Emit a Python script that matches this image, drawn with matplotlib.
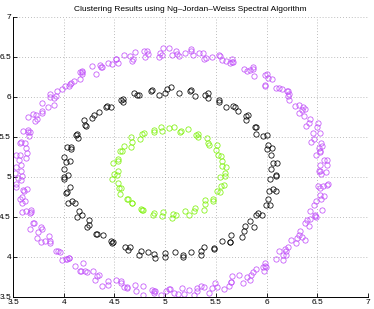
import matplotlib
matplotlib.use("Agg")
import matplotlib.pyplot as plt

# outer ring (magenta)
outer_x = [6.59, 6.52, 6.57, 6.60, 6.53, 6.49, 6.55, 6.52, 6.47, 6.53, 6.46, 6.51, 6.39, 6.43, 6.32,
           6.37, 6.36, 6.28, 6.32, 6.21, 6.21, 6.22, 6.09, 6.12, 6.05, 5.98, 6.01, 6.00, 5.88, 5.87,
           5.78, 5.81, 5.66, 5.67, 5.64, 5.53, 5.56, 5.46, 5.37, 5.40, 5.33, 5.25, 5.27, 5.14, 5.11,
           5.07, 5.04, 4.94, 4.95, 4.82, 4.80, 4.79, 4.65, 4.67, 4.59, 4.51, 4.53, 4.51, 4.38, 4.37,
           4.28, 4.32, 4.16, 4.18, 4.16, 4.06, 4.10, 4.01, 3.93, 3.98, 3.92, 3.86, 3.90, 3.79, 3.79,
           3.79, 3.70, 3.72, 3.74, 3.65, 3.60, 3.65, 3.62, 3.58, 3.63, 3.57, 3.64, 3.53, 3.58, 3.53,
           3.52, 3.58, 3.55, 3.53, 3.61, 3.64, 3.57, 3.62, 3.59, 3.68, 3.59, 3.67, 3.71, 3.67, 3.78,
           3.75, 3.74, 3.85, 3.86, 3.86, 3.96, 3.92, 3.98, 4.05, 4.02, 4.11, 4.19, 4.16, 4.17, 4.29,
           4.31, 4.33, 4.44, 4.44, 4.56, 4.51, 4.62, 4.59, 4.71, 4.78, 4.78, 4.90, 4.87, 4.96, 5.05,
           5.01, 5.13, 5.17, 5.19, 5.31, 5.31, 5.43, 5.38, 5.49, 5.46, 5.58, 5.65, 5.65, 5.77, 5.73,
           5.81, 5.90, 5.85, 5.96, 5.97, 5.98, 6.09, 6.16, 6.12, 6.19, 6.18, 6.29, 6.21, 6.30, 6.35,
           6.32, 6.42, 6.40, 6.38, 6.48, 6.48, 6.47, 6.55, 6.49, 6.53, 6.57, 6.51, 6.56, 6.61, 6.54,
           6.53, 6.60, 6.53, 6.54, 6.44, 6.50, 6.42, 6.35, 6.38, 6.22, 6.20, 6.15, 5.98, 5.98, 5.87,
           5.84, 5.66, 5.60, 5.54, 5.38, 5.25, 5.20, 5.12,
           4.98, 4.97, 4.83, 4.70, 4.68, 4.48, 4.44, 4.36, 4.18, 4.18, 4.07, 4.05, 3.90, 3.86, 3.84,
           3.73, 3.65, 3.67, 3.66, 3.57, 3.63, 3.56, 3.58,
           3.59, 3.53, 3.60, 3.59, 3.68, 3.63, 3.70, 3.79, 3.78, 3.81, 3.94, 4.03, 4.05, 4.21, 4.23,
           4.35, 4.38, 4.56, 4.62, 4.70, 4.89, 4.89, 5.04,
           5.09, 5.23, 5.28, 5.35, 5.51, 5.63, 5.66, 5.84, 5.87, 5.98, 5.99, 6.16, 6.19, 6.24, 6.38,
           6.33, 6.43, 6.49, 6.43, 6.54, 6.53, 6.60, 6.53]
outer_y = [5.06, 5.08, 5.21, 5.21, 5.33, 5.28, 5.39, 5.36, 5.48, 5.55, 5.55, 5.67, 5.64, 5.72, 5.80,
           5.76, 5.88, 5.89, 5.90, 6.01, 6.08, 6.04, 6.11, 6.11, 6.23, 6.15, 6.24, 6.29, 6.26, 6.37,
           6.35, 6.33, 6.44, 6.44, 6.43, 6.52, 6.46, 6.50, 6.55, 6.49, 6.55, 6.60, 6.53, 6.51, 6.58,
           6.53, 6.61, 6.50, 6.55, 6.57, 6.50, 6.57, 6.51, 6.45, 6.52, 6.48, 6.43, 6.48, 6.38, 6.38,
           6.39, 6.29, 6.31, 6.32, 6.22, 6.16, 6.20, 6.14, 6.07, 6.10, 6.01, 6.04, 5.90, 5.92, 5.80,
           5.82, 5.79, 5.70, 5.72, 5.59, 5.57, 5.56, 5.42, 5.44, 5.36, 5.28, 5.30, 5.28, 5.15, 5.12,
           5.05, 4.96, 4.99, 4.91, 4.83, 4.85, 4.72, 4.70, 4.68, 4.56, 4.56, 4.55, 4.43, 4.35, 4.38,
           4.31, 4.24, 4.26, 4.17, 4.20, 4.06, 4.08, 3.96, 3.99, 3.98, 3.89, 3.93, 3.82, 3.82, 3.83,
           3.71, 3.76, 3.70, 3.65, 3.70, 3.71, 3.61, 3.63, 3.58, 3.64, 3.52, 3.58, 3.59, 3.52, 3.60,
           3.57, 3.54, 3.61, 3.54, 3.58, 3.61, 3.55, 3.62, 3.67, 3.61, 3.60, 3.69, 3.69, 3.68, 3.78,
           3.75, 3.85, 3.78, 3.87, 3.82, 3.92, 3.98, 3.96, 4.07, 4.03, 4.10, 4.18, 4.13, 4.24, 4.25,
           4.27, 4.39, 4.46, 4.43, 4.51, 4.52, 4.65, 4.59, 4.70, 4.77, 4.76, 4.89, 4.89, 4.91, 5.04,
           5.15, 5.15, 5.31, 5.43, 5.44, 5.62, 5.68, 5.84, 5.85, 5.96, 6.08, 6.10, 6.14, 6.27, 6.35,
           6.34, 6.47, 6.45, 6.51, 6.47, 6.58, 6.55, 6.54,
           6.61, 6.52, 6.54, 6.56, 6.47, 6.41, 6.43, 6.40, 6.29, 6.31, 6.18, 6.14, 5.99, 6.00, 5.88,
           5.77, 5.75, 5.56, 5.51, 5.43, 5.24, 5.21, 5.08,
           5.01, 4.88, 4.84, 4.75, 4.59, 4.57, 4.42, 4.35, 4.19, 4.20, 4.08, 3.98, 3.99, 3.82, 3.81,
           3.78, 3.64, 3.68, 3.62, 3.65, 3.55, 3.57, 3.60,
           3.55, 3.59, 3.53, 3.64, 3.63, 3.64, 3.76, 3.71, 3.81, 3.89, 3.87, 4.02, 4.07, 4.21, 4.21,
           4.33, 4.47, 4.50, 4.57, 4.73, 4.86, 4.90, 5.08]

# middle ring (black)
middle_x = [6.09, 6.04, 6.06, 6.10, 6.04, 6.00, 6.05, 6.01, 5.96, 6.00, 5.90, 5.90, 5.89, 5.80, 5.82,
            5.80, 5.72, 5.67, 5.69, 5.60, 5.53, 5.53, 5.42, 5.42, 5.39, 5.29, 5.25, 5.24, 5.14, 5.06,
            5.00, 5.02, 4.94, 4.86, 4.87, 4.74, 4.72, 4.69, 4.58, 4.58, 4.56, 4.47, 4.42, 4.43, 4.35,
            4.28, 4.30, 4.20, 4.22, 4.21, 4.13, 4.12, 4.14, 4.07, 4.03, 4.07, 4.00, 4.02, 4.06, 4.00,
            4.04, 4.00, 4.00, 4.06, 4.03, 4.02, 4.08, 4.04, 4.11, 4.15, 4.13, 4.18, 4.25, 4.23, 4.25,
            4.33, 4.32, 4.39, 4.48, 4.47, 4.49, 4.60, 4.63, 4.65, 4.76, 4.74, 4.83, 4.90, 4.89, 5.00,
            5.00, 5.10, 5.18, 5.18, 5.25, 5.35, 5.35, 5.38, 5.48, 5.48, 5.56, 5.64, 5.64, 5.65, 5.76,
            5.78, 5.79, 5.88, 5.84, 5.90, 5.95, 5.92, 5.99, 6.03, 6.01, 6.02, 6.09, 6.06, 6.03, 6.09]
middle_y = [5.02, 5.10, 5.18, 5.17, 5.27, 5.35, 5.36, 5.40, 5.51, 5.52, 5.54, 5.63, 5.62, 5.71, 5.77,
            5.76, 5.82, 5.89, 5.87, 5.88, 5.96, 5.94, 5.99, 6.05, 6.02, 6.01, 6.09, 6.08, 6.05, 6.12,
            6.05, 6.10, 6.03, 6.08, 6.09, 6.03, 6.03, 6.05, 5.98, 5.94, 5.96, 5.88, 5.88, 5.89, 5.81,
            5.74, 5.77, 5.71, 5.64, 5.65, 5.54, 5.52, 5.49, 5.38, 5.38, 5.35, 5.25, 5.19, 5.20, 5.10,
            5.03, 5.00, 4.98, 4.88, 4.81, 4.80, 4.70, 4.68, 4.67, 4.57, 4.50, 4.52, 4.46, 4.38, 4.40,
            4.29, 4.29, 4.27, 4.18, 4.20, 4.19, 4.12, 4.09, 4.13, 4.07, 4.03, 4.06, 3.99, 4.04, 4.05,
            4.00, 4.06, 4.00, 4.03, 4.06, 4.02, 4.08, 4.12, 4.10, 4.11, 4.20, 4.19, 4.19, 4.27, 4.25,
            4.33, 4.39, 4.38, 4.45, 4.53, 4.53, 4.55, 4.65, 4.65, 4.73, 4.82, 4.83, 4.85, 4.97, 5.01]

# inner ring (green)
inner_x = [5.59, 5.56, 5.60, 5.56, 5.52, 5.55, 5.50, 5.51, 5.43, 5.42, 5.41, 5.32, 5.32, 5.30, 5.22,
           5.16, 5.15, 5.09, 5.04, 4.96, 4.97, 4.89, 4.89, 4.79, 4.77, 4.75, 4.66, 4.67, 4.66, 4.59,
           4.55, 4.57, 4.53, 4.53, 4.49, 4.53, 4.50, 4.52, 4.48, 4.53, 4.56, 4.54, 4.55, 4.62, 4.63,
           4.67, 4.67, 4.76, 4.77, 4.78, 4.88, 4.89, 4.98, 4.97, 5.07, 5.08, 5.11, 5.20, 5.23, 5.28,
           5.29, 5.38, 5.39, 5.39, 5.47, 5.47, 5.54, 5.51, 5.55, 5.58, 5.54, 5.59]
inner_y = [5.05, 5.14, 5.13, 5.20, 5.27, 5.26, 5.34, 5.40, 5.40, 5.42, 5.49, 5.50, 5.54, 5.53, 5.60,
           5.58, 5.56, 5.62, 5.61, 5.63, 5.58, 5.56, 5.59, 5.55, 5.54, 5.48, 5.50, 5.44, 5.38, 5.39,
           5.32, 5.32, 5.23, 5.20, 5.17, 5.08, 5.04, 5.03, 4.97, 4.93, 4.86, 4.86, 4.79, 4.72, 4.73,
           4.67, 4.68, 4.60, 4.59, 4.59, 4.52, 4.55, 4.56, 4.51, 4.49, 4.54, 4.52, 4.57, 4.53, 4.57,
           4.61, 4.59, 4.66, 4.71, 4.70, 4.73, 4.81, 4.83, 4.89, 4.90, 5.00, 5.01]

ticks = [3.5, 4, 4.5, 5, 5.5, 6, 6.5, 7]
tick_labels = ["3.5", "4", "4.5", "5", "5.5", "6", "6.5", "7"]

plt.rcParams['font.family'] = ['Liberation Sans', 'DejaVu Sans']

fig = plt.figure(figsize=(3.74, 3.09), dpi=100)
ax = fig.add_axes([0.035, 0.039, 0.949, 0.906])

ms = 3.8
ax.plot(outer_x, outer_y, 'o', mfc='none', mec=(0.76, 0.33, 0.98), ms=ms, mew=0.55)
ax.plot(middle_x, middle_y, 'o', mfc='none', mec='black', ms=ms, mew=0.55)
ax.plot(inner_x, inner_y, 'o', mfc='none', mec=(0.5, 0.95, 0.05), ms=ms, mew=0.55)

ax.set_xlim(3.5, 7)
ax.set_ylim(3.5, 7)
ax.set_xticks(ticks)
ax.set_xticklabels(tick_labels)
ax.set_yticks(ticks)
ax.set_yticklabels(tick_labels)
ax.tick_params(direction='in', length=3, width=0.6, labelsize=6, pad=1.5)
ax.spines['top'].set_visible(False)
ax.spines['right'].set_visible(False)
ax.spines['left'].set_linewidth(0.7)
ax.spines['bottom'].set_linewidth(0.7)
ax.grid(True, linestyle=(0, (1, 2.5)), color='#a8a8a8', linewidth=0.6)
ax.set_axisbelow(True)
ax.set_title("Clustering Results using Ng–Jordan–Weiss Spectral Algorithm", fontsize=6, pad=4)

fig.savefig("out.png", dpi=100)
